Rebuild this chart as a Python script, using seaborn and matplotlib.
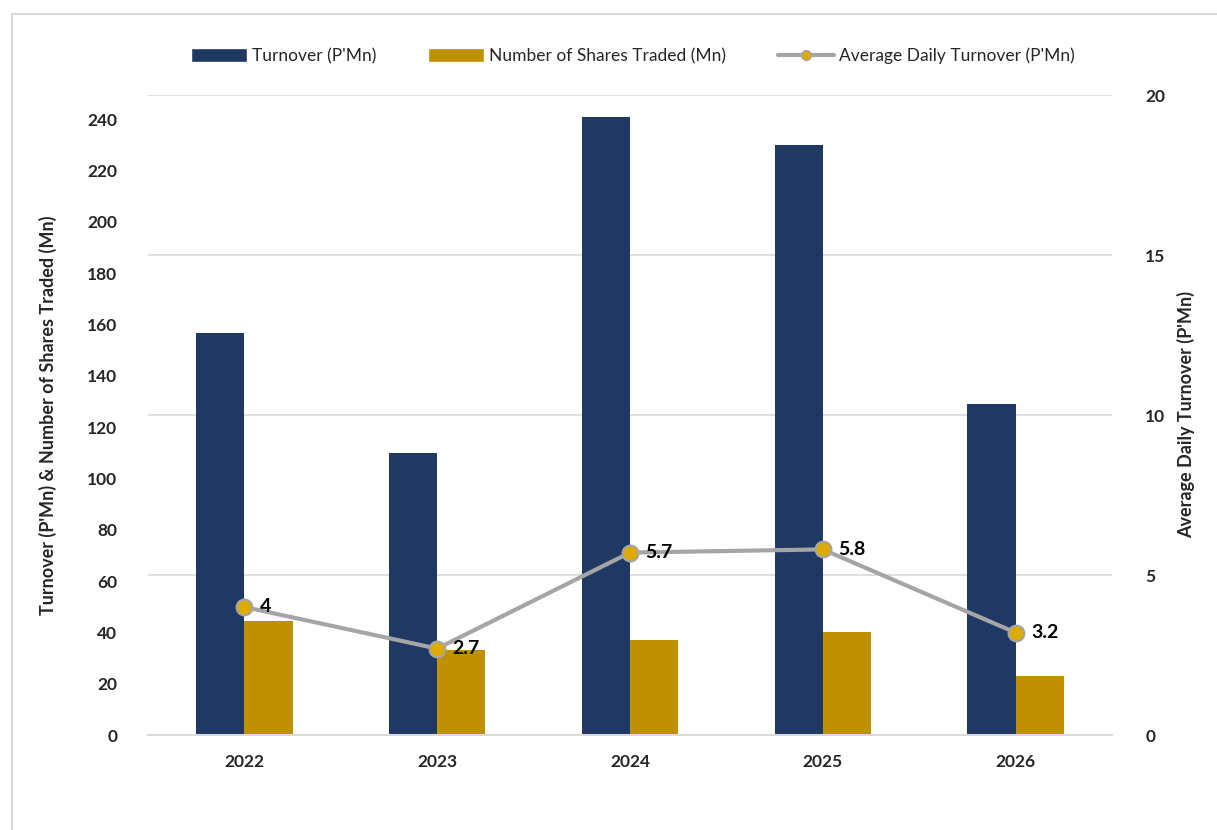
import numpy as np
import pandas as pd
import matplotlib
matplotlib.use("Agg")
import matplotlib.pyplot as plt
import seaborn as sns
from matplotlib.lines import Line2D
from matplotlib.patches import Patch

years = ["2022", "2023", "2024", "2025", "2026"]
turnover = [156.6, 109.9, 240.8, 229.9, 129.0]
shares = [44.4, 33.1, 37.0, 40.1, 23.0]
avg_daily = [4.0, 2.7, 5.7, 5.8, 3.2]
avg_labels = ["4", "2.7", "5.7", "5.8", "3.2"]

s_turn = "Turnover (P'Mn)"
s_shares = "Number of Shares Traded (Mn)"
s_avg = "Average Daily Turnover (P'Mn)"

navy = "#203864"
gold = "#BF9000"
gray = "#A5A5A5"
mfill = "#DDAA00"

sns.set_theme(style="white")
plt.rcParams['font.family'] = ['Lato', 'DejaVu Sans']

df = pd.DataFrame({
    "year": years * 2,
    "value": turnover + shares,
    "series": [s_turn] * 5 + [s_shares] * 5,
})

LEFT_MAX = 249.4
RIGHT_MAX = 20
right_ticks = [0, 5, 10, 15, 20]

fig = plt.figure(figsize=(12.17, 8.3), dpi=100)
ax = fig.add_axes([148/1217, 95/830, (1112-148)/1217, (735-95)/830])
ax2 = ax.twinx()

# gridlines at the right-axis ticks, drawn behind bars
for t in right_ticks[1:]:
    ax.axhline(t * LEFT_MAX / RIGHT_MAX, color="#D9D9D9", lw=1.2, zorder=0)

sns.barplot(data=df, x="year", y="value", hue="series", palette=[navy, gold],
            width=0.5, ax=ax, legend=False, saturation=1, linewidth=0, zorder=2)
ax.set_xlim(-0.5, 4.5)
ax.set_ylim(0, LEFT_MAX)
ax.set_yticks(np.arange(0, 241, 20))

xs = np.arange(len(years))
ax2.plot(xs, avg_daily, color=gray, lw=3, zorder=3)
ax2.scatter(xs, avg_daily, s=130, color=mfill, edgecolor=gray, linewidth=1.5, zorder=4)
for x, v, t in zip(xs, avg_daily, avg_labels):
    ax2.text(x + 0.08, v, t, ha="left", va="center", fontsize=14, fontweight="bold", color="black")
ax2.set_ylim(0, RIGHT_MAX)
ax2.set_yticks(right_ticks)
ax.set_zorder(0)
ax2.set_zorder(1)
ax2.patch.set_visible(False)

for a in (ax, ax2):
    for sp in a.spines.values():
        sp.set_visible(False)
    a.tick_params(length=0)
    a.grid(False)
ax.spines["bottom"].set_visible(True)
ax.spines["bottom"].set_color("#D9D9D9")
ax.spines["bottom"].set_linewidth(1.5)
ax.spines["bottom"].set_zorder(3)

ax.set_xlabel("")
ax.set_ylabel("Turnover (P'Mn) & Number of Shares Traded (Mn)", fontsize=13, fontweight="bold", labelpad=22)
ax2.set_ylabel("Average Daily Turnover (P'Mn)", fontsize=13, fontweight="bold", labelpad=8)
for lab in ax.get_xticklabels() + ax.get_yticklabels() + ax2.get_yticklabels():
    lab.set_fontweight("bold")
    lab.set_fontsize(12.5)
ax.tick_params(axis="x", pad=14)
ax.tick_params(axis="y", pad=22)
ax2.tick_params(axis="y", pad=24)

handles = [
    Patch(facecolor=navy, label=s_turn),
    Patch(facecolor=gold, label=s_shares),
    Line2D([0], [0], color=gray, lw=3, marker="o", markersize=7,
           markerfacecolor=mfill, markeredgecolor=gray, label=s_avg),
]
fig.legend(handles=handles, loc="center", bbox_to_anchor=(0.52, 1 - 56/830), ncol=3,
           frameon=False, fontsize=12.5, handlelength=3.2, handleheight=0.9,
           columnspacing=3.0, handletextpad=0.3)

fig.add_artist(Line2D([12/1217, 12/1217], [0, 1 - 14/830], color="#D9D9D9", lw=1.5, transform=fig.transFigure))
fig.add_artist(Line2D([12/1217, 1], [1 - 14/830, 1 - 14/830], color="#D9D9D9", lw=1.5, transform=fig.transFigure))

fig.savefig("out.png", dpi=100)
